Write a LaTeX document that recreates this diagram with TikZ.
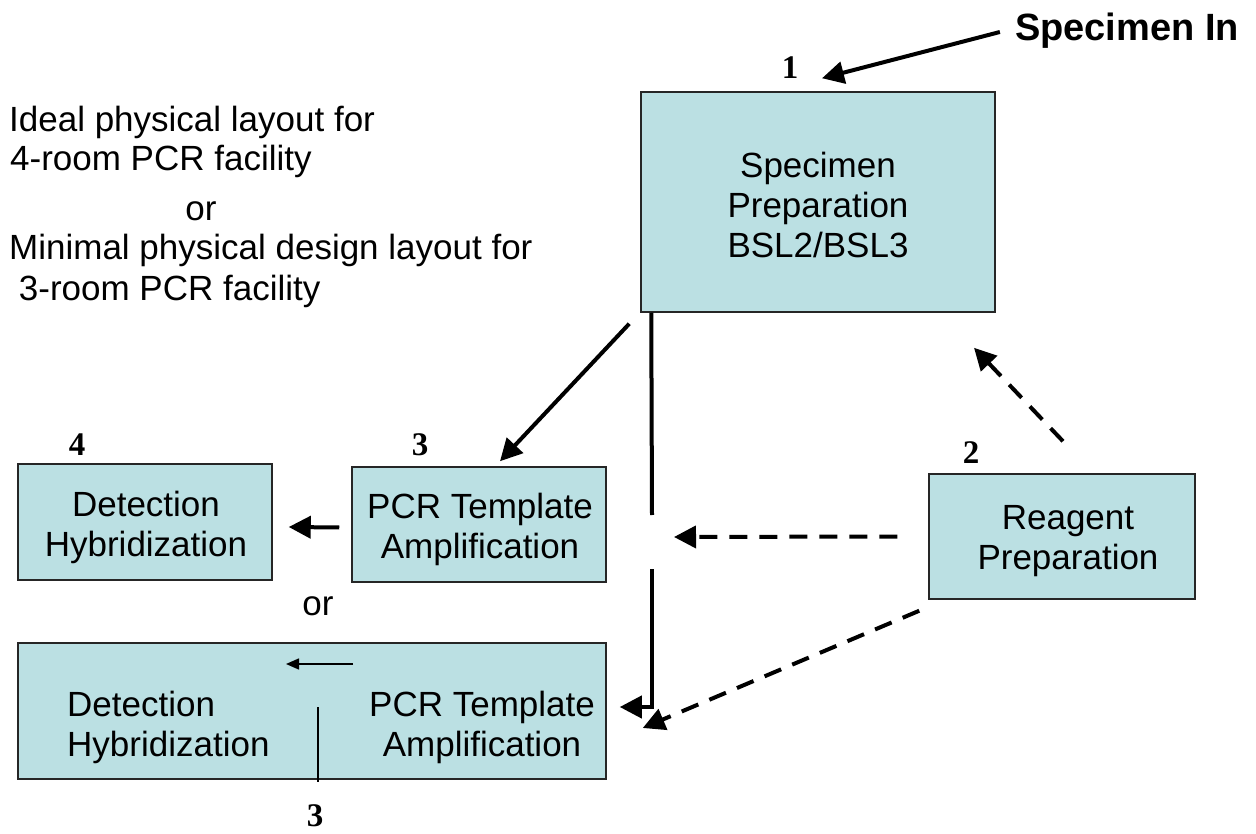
\documentclass[tikz,border=0pt]{standalone}
\usepackage{fontspec}
\setmainfont{Liberation Sans}
\newfontfamily\numfont{Liberation Serif}
\usetikzlibrary{arrows.meta}
\definecolor{boxfill}{HTML}{BBE0E3}
\begin{document}
\begin{tikzpicture}[x=1pt,y=-1pt,
  box/.style={draw=black!85, line width=1.5pt, fill=boxfill, inner sep=0pt},
  txt/.style={font=\fontsize{35}{40}\selectfont, inner sep=0pt},
  num/.style={font=\fontsize{33}{36}\selectfont\numfont\bfseries, inner sep=0pt},
  bigarrow/.style={line width=4pt, -{Triangle[length=22pt,width=22pt]}},
  dasharrow/.style={bigarrow, dash pattern=on 18pt off 12pt},
  thinarrow/.style={line width=1.5pt, -{Triangle[length=13pt,width=11pt]}},
]
\useasboundingbox (0,0) rectangle (1256,834);

% boxes
\node[box, minimum width=354pt, minimum height=220pt] (spec) at (818,202) {};
\node[txt, align=center] (spectext) at (818,205) {Specimen\\Preparation\\BSL2/BSL3};
\node[box, minimum width=254pt, minimum height=116pt] (det) at (145,522) {};
\node[txt, align=center] (dettext) at (146,527) {Detection\\Hybridization};
\node[box, minimum width=254pt, minimum height=115pt] (pcr) at (479,524.5) {};
\node[txt, align=center] (pcrtext) at (480,529) {PCR Template\\Amplification};
\node[box, minimum width=266pt, minimum height=125pt] (reag) at (1062,536.5) {};
\node[txt, align=center] (reagtext) at (1068,541) {Reagent\\Preparation};
\node[box, minimum width=588pt, minimum height=136pt] (comb) at (312,711) {};
\node[txt, anchor=west, align=left] (combdet) at (67,727) {Detection\\Hybridization};
\node[txt, align=center] (combpcr) at (482,727) {PCR Template\\Amplification};

% free texts
\node[font=\fontsize{38}{42}\selectfont\bfseries, inner sep=0pt] (specin) at (1127,31) {Specimen In};
\node[txt, anchor=base west] (l1) at (9,132) {Ideal physical layout for};
\node[txt, anchor=base west] (l2) at (10,171) {4-room PCR facility};
\node[txt, anchor=base] (l3) at (201,221) {or};
\node[txt, anchor=base west] (l4) at (9,260) {Minimal physical design layout for};
\node[txt, anchor=base west] (l5) at (9,301) {\ 3-room PCR facility};
\node[txt] (or2) at (318,606) {or};

% numbers
\node[num] (n1) at (790,68) {1};
\node[num] (n4) at (77,445) {4};
\node[num] (n3) at (420,445) {3};
\node[num] (n2) at (971,453) {2};
\node[num] (n3b) at (315,816) {3};

% connector coordinates
\coordinate (gaptop) at (652,515);
\coordinate (gapbot) at (652,569);
\coordinate (corner) at (652,707);
\coordinate (gapmid) at (674,537);

% connectors
\draw[bigarrow] ([xshift=-15pt,yshift=-1pt]specin.west) -- ([xshift=4pt,yshift=13pt]spec.north);
\draw[bigarrow] ([xshift=-11pt,yshift=-11pt]spec.south west) -- ([xshift=21pt,yshift=5pt]pcr.north);
\draw[bigarrow] ([xshift=-12pt,yshift=-3pt]pcr.west) -- ([xshift=16pt,yshift=-5pt]det.east);
\draw[line width=4pt] ([xshift=11pt]spec.south west) -- (gaptop);
\draw[line width=4pt, -{Triangle[length=22pt,width=22pt]}] (gapbot) -- (corner) -- ([xshift=13pt,yshift=4pt]comb.east);
\draw[dasharrow] ([xshift=-31pt]reag.west) -- (gapmid);
\draw[dasharrow] ([xshift=1pt]reag.north) ++(0,32pt) -- ([xshift=156pt,yshift=-35pt]spec.south);
\draw[dasharrow] ([xshift=-9pt,yshift=-11pt]reag.south west) -- ([xshift=36pt,yshift=-17pt]comb.east);
\draw[thinarrow] (353,664) -- (286,664);
\draw[line width=2pt] (318,707) -- (318,782);
\end{tikzpicture}
\end{document}
